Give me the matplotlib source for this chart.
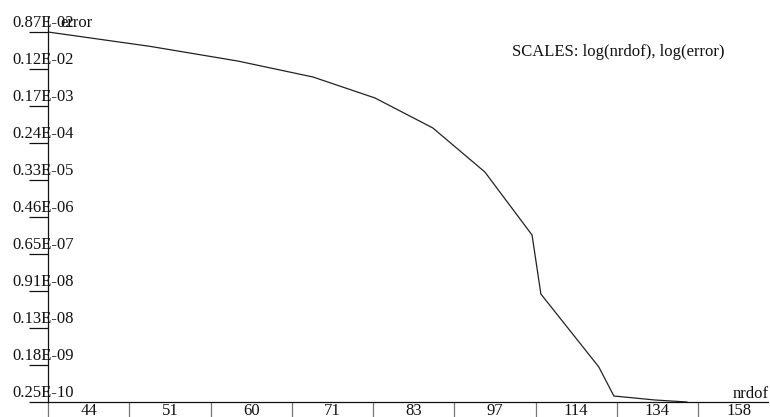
import numpy as np
import matplotlib
matplotlib.use("Agg")
import matplotlib.pyplot as plt

# convergence history: number of degrees of freedom vs. error
nrdof = [44.0, 53.8, 63.9, 74.1, 83.7, 93.8, 103.9, 114.0, 116.0, 130.0, 133.9, 145.2, 154.6]
error = [8.7e-3, 4.05e-3, 1.86e-3, 7.95e-4, 2.61e-4, 5.29e-5, 5.10e-6, 1.79e-7,
         7.77e-9, 1.61e-10, 3.44e-11, 2.78e-11, 2.5e-11]

xtick_labels = ["44", "51", "60", "71", "83", "97", "114", "134", "158"]
ytick_labels = ["0.87E-02", "0.12E-02", "0.17E-03", "0.24E-04", "0.33E-05", "0.46E-06",
                "0.65E-07", "0.91E-08", "0.13E-08", "0.18E-09", "0.25E-10"]

W, H, DPI = 770, 417, 100
PX = 72.0 / DPI  # points per pixel

plt.rcParams["font.family"] = ["Liberation Serif", "DejaVu Serif"]
FS = 12

fig = plt.figure(figsize=(W / DPI, H / DPI), dpi=DPI)
# plotting frame in pixels: left 48, right 768, top 17, bottom 402
ax = fig.add_axes([48 / W, (H - 402) / H, 720 / W, 385 / H])

ax.set_xscale("log")
ax.set_yscale("log")

# x axis: 8 equal log intervals between first and last labelled value (650 px)
x0, x8 = 44.0, 158.0
lx_per_px = np.log10(x8 / x0) / 650.0
ax.set_xlim(x0, x0 * 10 ** (lx_per_px * 720))
xticks = x0 * (x8 / x0) ** (np.arange(9) / 8.0)

# y axis: 10 equal log intervals between max and min error (370 px)
ytop, ybot = max(error), min(error)
ly_per_px = np.log10(ytop / ybot) / 370.0
ax.set_ylim(ybot, ytop * 10 ** (ly_per_px * 15))
yticks = ytop * (ybot / ytop) ** (np.arange(11) / 10.0)

ax.plot(nrdof, error, color="#222222", lw=0.9, solid_joinstyle="miter")

for s in ("top", "right"):
    ax.spines[s].set_visible(False)
for s in ("left", "bottom"):
    ax.spines[s].set_linewidth(0.9)
    ax.spines[s].set_color("#111111")

ax.set_xticks(xticks)
ax.set_yticks(yticks)
ax.xaxis.set_minor_locator(matplotlib.ticker.NullLocator())
ax.yaxis.set_minor_locator(matplotlib.ticker.NullLocator())
ax.set_xticklabels([])
ax.set_yticklabels([])
ax.tick_params(axis="y", direction="out", length=19 * PX, width=0.9, color="#111111")
ax.tick_params(axis="x", direction="out", length=16 * PX, width=0.9, color="#777777")

# y labels sit above their tick, left edge at x = 12 px
for v, lab in zip(yticks, ytick_labels):
    ax.annotate(lab, xy=(0, v), xycoords=("axes fraction", "data"),
                xytext=(-36 * PX, 5 * PX), textcoords="offset points",
                ha="left", va="baseline", fontsize=FS, color="#111111",
                annotation_clip=False)

# x labels sit in the middle of each interval
for k, lab in enumerate(xtick_labels):
    xm = np.sqrt(xticks[k] * xticks[k] * (x8 / x0) ** (1 / 8.0))
    ax.annotate(lab, xy=(xm, 0), xycoords=("data", "axes fraction"),
                xytext=(0, -13 * PX), textcoords="offset points",
                ha="center", va="baseline", fontsize=FS, color="#111111",
                annotation_clip=False)

def fig_text(xpx, ypx_base, s):
    fig.text(xpx / W, 1 - ypx_base / H, s, ha="left", va="baseline",
             fontsize=FS, color="#111111")

fig_text(60, 27, "error")
fig_text(733, 398, "nrdof")
fig_text(512, 56, "SCALES: log(nrdof), log(error)")

fig.savefig("out.png", dpi=DPI, facecolor="white")
